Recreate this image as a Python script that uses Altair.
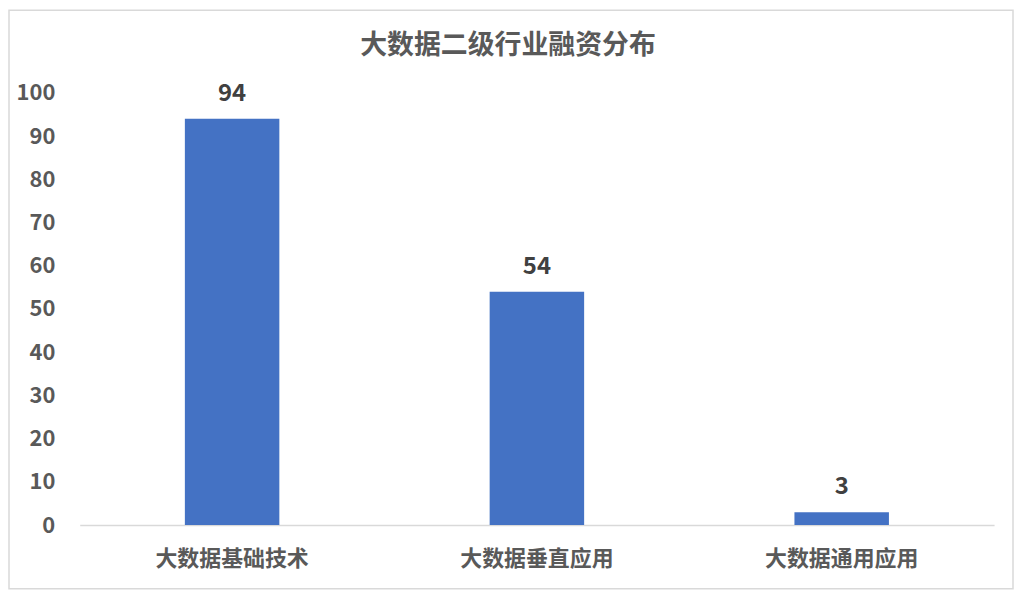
import altair as alt
import pandas as pd

categories = ["大数据基础技术", "大数据垂直应用", "大数据通用应用"]
values = [94, 54, 3]
title_text = "大数据二级行业融资分布"

df = pd.DataFrame({"category": categories, "value": values})

FONT = "Noto Sans CJK SC"

base = alt.Chart(df).encode(
    x=alt.X(
        "category:N",
        sort=categories,
        title=None,
        scale=alt.Scale(paddingInner=0.69, paddingOuter=0.345),
        axis=alt.Axis(
            labelAngle=0,
            labelFont=FONT,
            labelFontSize=22,
            labelFontWeight="bold",
            labelColor="#595959",
            labelPadding=24,
            ticks=False,
            domainColor="#D9D9D9",
            domainWidth=1.5,
            grid=False,
        ),
    ),
    y=alt.Y(
        "value:Q",
        title=None,
        scale=alt.Scale(domain=[0, 100], nice=False),
        axis=alt.Axis(
            values=list(range(0, 101, 10)),
            labelFont=FONT,
            labelFontSize=22,
            labelFontWeight="bold",
            labelColor="#595959",
            labelPadding=25,
            ticks=False,
            domain=False,
            grid=False,
        ),
    ),
)

bars = base.mark_bar(color="#4472C4")
labels = base.mark_text(
    dy=-18,
    baseline="alphabetic",
    font=FONT,
    fontSize=24,
    fontWeight="bold",
    color="#404040",
).encode(text="value:Q")

title_df = pd.DataFrame({"t": [title_text]})
title = alt.Chart(title_df).mark_text(
    font=FONT,
    fontSize=27,
    fontWeight="bold",
    color="#595959",
    baseline="middle",
    align="center",
).encode(
    text="t:N",
    x=alt.value(430),
    y=alt.value(-47),
)

border = alt.Chart(pd.DataFrame({"a": [0]})).mark_rect(
    fill=None, stroke="#D9D9D9", strokeWidth=1.5
).encode(
    x=alt.value(-71),
    x2=alt.value(937),
    y=alt.value(-83),
    y2=alt.value(498),
)

chart = alt.layer(border, bars, labels, title).properties(
    width=918,
    height=434,
    padding={"left": 72, "top": 84, "right": 20, "bottom": 66},
    autosize=alt.AutoSizeParams(type="none"),
).configure_view(stroke=None)

chart.save("out.html", embed_options={"renderer": "svg", "actions": False})
